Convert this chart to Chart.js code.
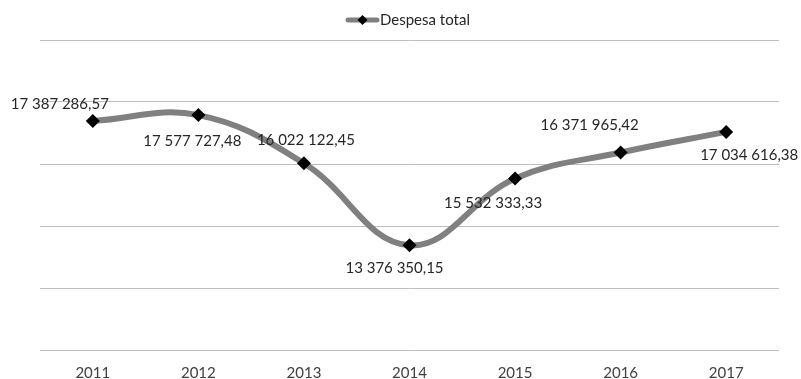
<!DOCTYPE html>
<html>
<head>
<meta charset="utf-8">
<script src="https://cdn.jsdelivr.net/npm/chart.js@4.4.1/dist/chart.umd.min.js"></script>
<style>
  html, body { margin: 0; padding: 0; background: #fff; }
</style>
</head>
<body>
<canvas id="chart" width="801" height="379"></canvas>
<script>
const anos = ["2011", "2012", "2013", "2014", "2015", "2016", "2017"]
const despesaTotal = [17387286.57, 17577727.48, 16022122.45, 13376350.15, 15532333.33, 16371965.42, 17034616.38]
const rotulos = ["17 387 286,57", "17 577 727,48", "16 022 122,45", "13 376 350,15", "15 532 333,33", "16 371 965,42", "17 034 616,38"]
const legenda = "Despesa total"

// where each value label sits relative to its point (dx, dy)
const posRotulo = [[-33, -17], [-6, 26], [2, -23], [-15, 23], [-22, 25], [-31, -27], [23, 23]]

const fonte = "Lato, 'Open Sans', sans-serif"

const rotulosPlugin = {
    id: "rotulos",
    afterDatasetsDraw(chart){
        const ctx = chart.ctx
        const pts = chart.getDatasetMeta(0).data
        ctx.save()
        ctx.font = "15px " + fonte
        ctx.fillStyle = "#262626"
        ctx.textAlign = "center"
        ctx.textBaseline = "middle"
        pts.forEach((p, i) => {
            ctx.fillText(rotulos[i], p.x + posRotulo[i][0], p.y + posRotulo[i][1])
        })
        ctx.restore()
    },
    afterDraw(chart){
        // legend: gray line sample with a diamond, then the text
        const ctx = chart.ctx
        const cy = 20
        const x0 = 348, x1 = 377
        ctx.save()
        ctx.strokeStyle = "#808080"
        ctx.lineWidth = 5
        ctx.lineCap = "round"
        ctx.beginPath()
        ctx.moveTo(x0, cy)
        ctx.lineTo(x1, cy)
        ctx.stroke()
        const cx = (x0 + x1) / 2
        ctx.fillStyle = "#000"
        ctx.beginPath()
        ctx.moveTo(cx, cy - 5)
        ctx.lineTo(cx + 5, cy)
        ctx.lineTo(cx, cy + 5)
        ctx.lineTo(cx - 5, cy)
        ctx.closePath()
        ctx.fill()
        ctx.font = "15px " + fonte
        ctx.fillStyle = "#262626"
        ctx.textAlign = "left"
        ctx.textBaseline = "middle"
        ctx.fillText(legenda, 380, cy)
        ctx.restore()
    }
}

const chart = new Chart(document.getElementById("chart").getContext("2d"), {
    type: "line",
    data: {
        labels: anos,
        datasets: [{
            label: legenda,
            data: despesaTotal,
            borderColor: "#808080",
            backgroundColor: "#808080",
            borderWidth: 6,
            borderCapStyle: "round",
            tension: 0.4,
            pointStyle: "rectRot",
            pointRadius: 7,
            pointBackgroundColor: "#000",
            pointBorderColor: "#000",
            pointBorderWidth: 0
        }]
    },
    options: {
        responsive: false,
        animation: false,
        layout: { padding: { left: 40, right: 22, top: 40, bottom: 0 } },
        scales: {
            x: {
                offset: true,
                grid: { display: false, drawTicks: false },
                border: { display: false },
                ticks: { color: "#404040", font: { family: fonte, size: 15 }, padding: 14 },
                afterFit(scale){ scale.height = 29 }
            },
            y: {
                min: 10000000,
                max: 20000000,
                ticks: { display: false, stepSize: 2000000 },
                grid: { color: "#bfbfbf", lineWidth: 1, drawTicks: false },
                border: { display: false }
            }
        },
        plugins: {
            legend: { display: false },
            tooltip: { enabled: false }
        }
    },
    plugins: [rotulosPlugin]
})
</script>
</body>
</html>
